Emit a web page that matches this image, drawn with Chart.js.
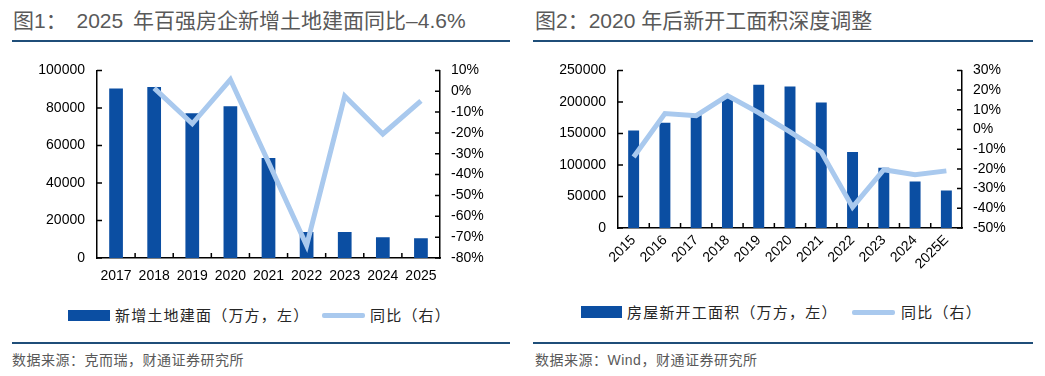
<!DOCTYPE html>
<html>
<head>
<meta charset="utf-8">
<script src="https://cdn.jsdelivr.net/npm/chart.js@4.4.1/dist/chart.umd.min.js"></script>
<style>
  body { margin: 0; width: 1045px; height: 376px; background: #fff; position: relative; overflow: hidden;
         font-family: "Liberation Sans", "Noto Sans CJK SC", sans-serif; }
  .abs { position: absolute; }
  .title { font-size: 21px; color: #595959; white-space: nowrap; line-height: 24px; }
  .rule { height: 2px; background: #1f4e79; }
  .src { font-size: 14px; color: #595959; white-space: nowrap; line-height: 18px; letter-spacing: 0.5px; }
  .leg { font-size: 15px; color: #262626; white-space: nowrap; line-height: 18px; letter-spacing: 1.2px;
         font-family: "Noto Sans CJK SC", sans-serif; }
  .box { background: #0b4ea2; }
  .lin { background: #a9c9ee; border-radius: 2px; }
</style>
</head>
<body>
<!-- left panel -->
<div class="abs title" style="left:13px; top:9px; word-spacing:4px;">图1： 2025 年百强房企新增土地建面同比–4.6%</div>
<div class="abs rule" style="left:12px; top:40px; width:498px;"></div>
<div class="abs" style="left:0; top:50px; width:520px; height:240px;"><canvas id="landChart"></canvas></div>
<div class="abs box" style="left:68px; top:310px; width:42px; height:11px;"></div>
<div class="abs leg" style="left:115px; top:306px;">新增土地建面（万方，左）</div>
<div class="abs lin" style="left:322px; top:313px; width:43px; height:5px;"></div>
<div class="abs leg" style="left:370px; top:306px;">同比（右）</div>
<div class="abs rule" style="left:12px; top:342px; width:498px;"></div>
<div class="abs src" style="left:12px; top:351px;">数据来源：克而瑞，财通证券研究所</div>

<!-- right panel -->
<div class="abs title" style="left:535px; top:9px;">图2：2020 年后新开工面积深度调整</div>
<div class="abs rule" style="left:533px; top:40px; width:500px;"></div>
<div class="abs" style="left:520px; top:50px; width:525px; height:250px;"><canvas id="startsChart"></canvas></div>
<div class="abs box" style="left:581px; top:306px; width:41px; height:12px;"></div>
<div class="abs leg" style="left:627px; top:303px;">房屋新开工面积（万方，左）</div>
<div class="abs lin" style="left:852px; top:310px; width:43px; height:5px;"></div>
<div class="abs leg" style="left:901px; top:303px;">同比（右）</div>
<div class="abs rule" style="left:533px; top:342px; width:500px;"></div>
<div class="abs src" style="left:535px; top:351px;">数据来源：Wind，财通证券研究所</div>

<script>
// --- data ---
const landYears = ['2017', '2018', '2019', '2020', '2021', '2022', '2023', '2024', '2025'];
const landArea = [90300, 91200, 77200, 80900, 53300, 13900, 13900, 11000, 10500];   // 万方
const landYoy = [null, 1.5, -15.6, 5.6, -34.1, -74.0, -2.3, -20.5, -4.6];          // %

const startYears = ['2015', '2016', '2017', '2018', '2019', '2020', '2021', '2022', '2023', '2024', '2025E'];
const startArea = [154500, 166900, 178700, 209300, 227200, 224400, 198900, 120600, 95400, 73900, 59500];
const startYoy = [-14.0, 8.1, 7.0, 17.2, 8.5, -1.2, -11.4, -39.4, -20.4, -23.0, -21.0];

const BAR_COLOR = '#0b4ea2';
const LINE_COLOR = '#a9c9ee';
const TICK_FONT = { family: '"Liberation Sans", Arial, sans-serif', size: 14 };

// short tick marks pointing into the plot area
const innerTicks = {
    id: 'innerTicks',
    afterDatasetsDraw(chart) {
        const { ctx, chartArea: a, scales } = chart;
        ctx.save();
        ctx.strokeStyle = '#000';
        ctx.lineWidth = 1.5;
        ctx.beginPath();
        scales.y.ticks.forEach((t, i) => {
            const py = scales.y.getPixelForTick(i);
            ctx.moveTo(a.left, py);
            ctx.lineTo(a.left + 5, py);
        });
        scales.y1.ticks.forEach((t, i) => {
            const py = scales.y1.getPixelForTick(i);
            ctx.moveTo(a.right, py);
            ctx.lineTo(a.right - 5, py);
        });
        const n = scales.x.ticks.length;
        for (let i = 1; i < n; i++) {
            const px = (scales.x.getPixelForValue(i - 1) + scales.x.getPixelForValue(i)) / 2;
            ctx.moveTo(px, a.bottom);
            ctx.lineTo(px, a.bottom - 5);
        }
        ctx.stroke();
        ctx.restore();
    }
};

function makeComboChart(canvasId, cfg) {
    const canvas = document.getElementById(canvasId);
    return new Chart(canvas.getContext('2d'), {
        type: 'bar',
        data: {
            labels: cfg.labels,
            datasets: [
                {
                    type: 'line',
                    data: cfg.yoy,
                    yAxisID: 'y1',
                    borderColor: LINE_COLOR,
                    borderWidth: 5,
                    pointRadius: 0,
                    tension: 0,
                    spanGaps: false,
                    order: 0
                },
                {
                    type: 'bar',
                    data: cfg.bars,
                    yAxisID: 'y',
                    backgroundColor: BAR_COLOR,
                    barPercentage: cfg.barPct,
                    categoryPercentage: 1,
                    order: 1
                }
            ]
        },
        options: {
            responsive: true,
            maintainAspectRatio: false,
            animation: false,
            layout: { padding: { top: cfg.padTop, left: 0, right: 0, bottom: 0 } },
            plugins: { legend: { display: false }, tooltip: { enabled: false } },
            scales: {
                x: {
                    grid: { display: false, drawTicks: false },
                    border: { display: true, color: '#000', width: 1.5 },
                    ticks: {
                        color: '#000', font: TICK_FONT, padding: cfg.xPad,
                        maxRotation: cfg.rot, minRotation: cfg.rot, autoSkip: false
                    },
                    afterFit: (s) => { s.height = cfg.xHeight; }
                },
                y: {
                    position: 'left',
                    min: 0, max: cfg.yMax,
                    grid: { display: false, drawTicks: false },
                    border: { display: true, color: '#000', width: 1.5 },
                    ticks: {
                        stepSize: cfg.yStep, color: '#000', font: TICK_FONT, padding: 12,
                        autoSkip: false, callback: (v) => String(v)
                    },
                    afterFit: (s) => { s.width = cfg.yWidth; }
                },
                y1: {
                    position: 'right',
                    min: cfg.y1Min, max: cfg.y1Max,
                    grid: { display: false, drawTicks: false },
                    border: { display: true, color: '#000', width: 1.5 },
                    ticks: {
                        stepSize: 10, color: '#000', font: TICK_FONT, padding: 11,
                        autoSkip: false, callback: (v) => v + '%'
                    },
                    afterFit: (s) => { s.width = cfg.y1Width; }
                }
            }
        },
        plugins: [innerTicks]
    });
}

makeComboChart('landChart', {
    labels: landYears, bars: landArea, yoy: landYoy,
    yMax: 100000, yStep: 20000, y1Min: -80, y1Max: 10,
    barPct: 0.36, padTop: 13, xHeight: 32, xPad: 10, rot: 0,
    yWidth: 97, y1Width: 80
});

makeComboChart('startsChart', {
    labels: startYears, bars: startArea, yoy: startYoy,
    yMax: 250000, yStep: 50000, y1Min: -50, y1Max: 30,
    barPct: 0.35, padTop: 16, xHeight: 72, xPad: 4, rot: 45,
    yWidth: 98, y1Width: 83
});
</script>
</body>
</html>
